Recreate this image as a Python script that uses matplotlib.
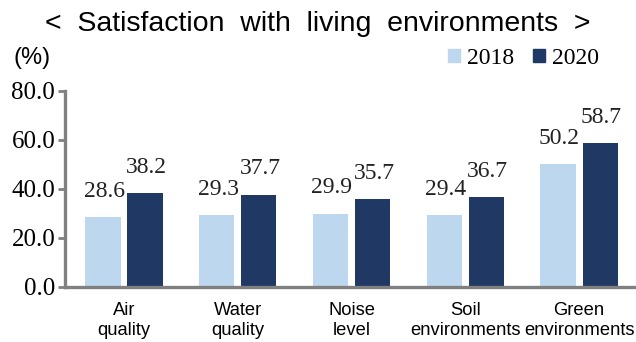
import numpy as np
import matplotlib.pyplot as plt
from matplotlib.patches import Patch

# survey results (%)
categories = ["Air\nquality", "Water\nquality", "Noise\nlevel",
              "Soil\nenvironments", "Green\nenvironments"]
years = ["2018", "2020"]
values_2018 = [28.6, 29.3, 29.9, 29.4, 50.2]
values_2020 = [38.2, 37.7, 35.7, 36.7, 58.7]
yticks = [0, 20, 40, 60, 80]

light = "#bdd7ee"
dark = "#1f3864"
grey = "#808080"
serif = "Liberation Serif"
sans = "Liberation Sans"

fig = plt.figure(figsize=(6.36, 3.42), dpi=100)
ax = fig.add_axes([0.102, 0.161, 0.898, 0.573])

x = np.arange(len(categories))
w = 0.31
off = 0.185
b1 = ax.bar(x - off, values_2018, w, color=light)
b2 = ax.bar(x + off, values_2020, w, color=dark)

# value labels above each bar
for bars, vals in ((b1, values_2018), (b2, values_2020)):
    for r, v in zip(bars, vals):
        ax.annotate(f"{v:.1f}", (r.get_x() + r.get_width() / 2, v),
                    xytext=(1, 11), textcoords="offset points",
                    ha="center", va="bottom", fontsize=17,
                    family=serif, color="#222222")

ax.set_xlim(-0.52, 4.5)
ax.set_ylim(0, 80)
ax.set_yticks(yticks)
ax.set_yticklabels([f"{t:.1f}" for t in yticks], family=serif, fontsize=18)
ax.set_xticks(x)
ax.set_xticklabels(categories, family=sans, fontsize=13.2, linespacing=1.2)

for s in ("top", "right"):
    ax.spines[s].set_visible(False)
for s in ("left", "bottom"):
    ax.spines[s].set_color(grey)
    ax.spines[s].set_linewidth(2.4)
ax.tick_params(axis="y", length=5, width=2, color=grey, pad=2)
ax.tick_params(axis="x", length=0, pad=11)

fig.text(0.5, 0.93, "<  Satisfaction  with  living  environments  >",
         ha="center", va="center", fontsize=20.5, family=sans)
fig.text(0.022, 0.83, "(%)", ha="left", va="center", fontsize=17, family=sans)

handles = [Patch(color=light), Patch(color=dark)]
fig.legend(handles, years, loc="center right", bbox_to_anchor=(0.975, 0.83),
           ncol=2, frameon=False, prop={"family": serif, "size": 17},
           handlelength=0.5, handleheight=0.5, handletextpad=0.3,
           columnspacing=0.8)

fig.savefig("out.png", dpi=100)
